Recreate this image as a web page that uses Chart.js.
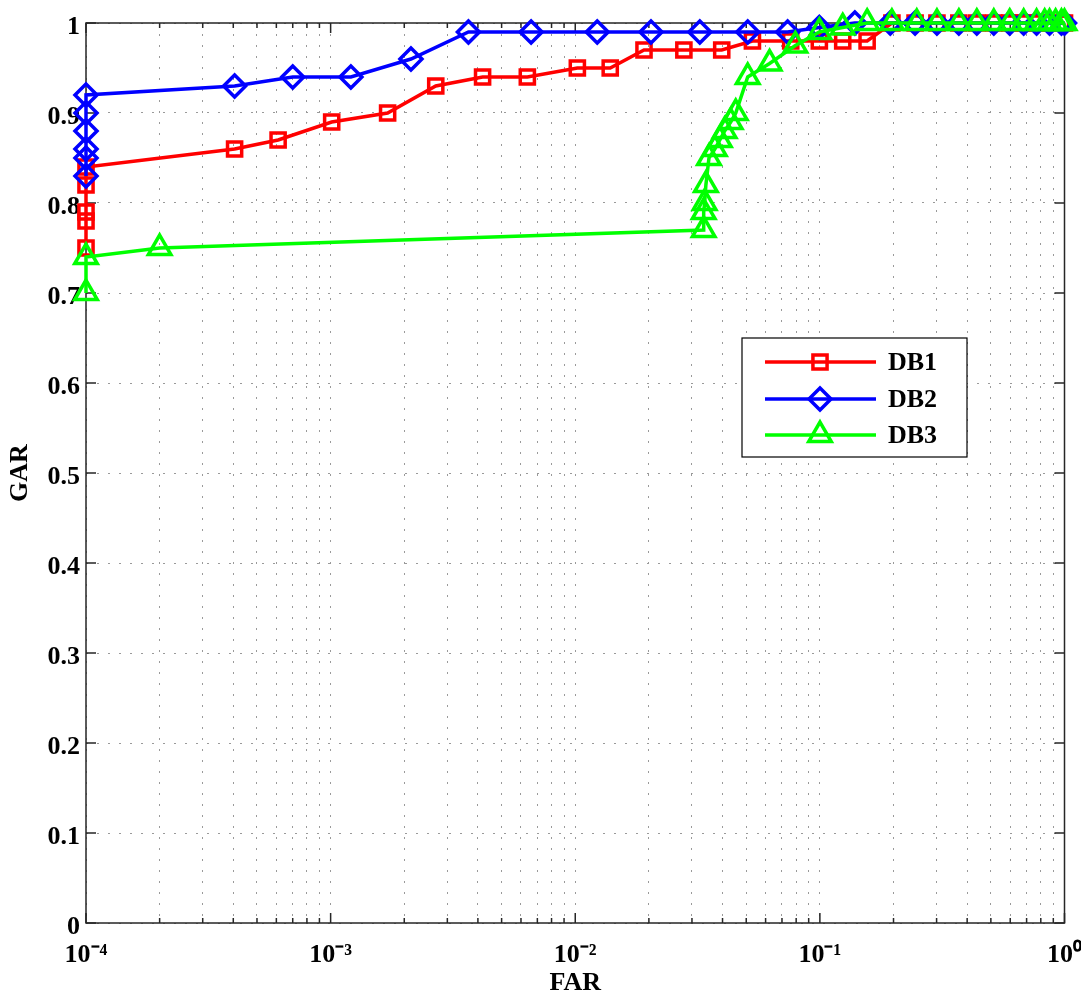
<!DOCTYPE html>
<html>
<head>
<meta charset="utf-8">
<script src="https://cdn.jsdelivr.net/npm/chart.js@4.4.1/dist/chart.umd.min.js"></script>
<style>
  html, body { margin: 0; padding: 0; background: #ffffff; }
  #c { display: block; }
</style>
</head>
<body>
<canvas id="c" width="1081" height="996"></canvas>
<script>
// ---------------- data ----------------
const seriesLabels = ['DB1', 'DB2', 'DB3'];

const db1X = [1e-4, 1e-4, 1e-4, 1e-4, 1e-4, 4.05e-4, 6.1e-4, 1.01e-3, 1.71e-3, 2.69e-3, 4.18e-3, 6.37e-3,
              1.02e-2, 1.39e-2, 1.91e-2, 2.78e-2, 3.97e-2, 5.3e-2, 7.6e-2, 0.0995, 0.124, 0.156,
              0.197, 0.245, 0.301, 0.37, 0.438, 0.514, 0.597, 0.681, 0.769, 0.869, 0.972, 1.0];
const db1Y = [0.75, 0.78, 0.79, 0.82, 0.84, 0.86, 0.87, 0.89, 0.90, 0.93, 0.94, 0.94,
              0.95, 0.95, 0.97, 0.97, 0.97, 0.98, 0.98, 0.98, 0.98, 0.98,
              1.0, 1.0, 1.0, 1.0, 1.0, 1.0, 1.0, 1.0, 1.0, 1.0, 1.0, 1.0];

const db2X = [1e-4, 1e-4, 1e-4, 1e-4, 1e-4, 1e-4, 4.05e-4, 7.0e-4, 1.21e-3, 2.13e-3, 3.66e-3, 6.6e-3,
              1.23e-2, 2.04e-2, 3.23e-2, 5.07e-2, 7.38e-2, 0.0995, 0.139, 0.194, 0.245, 0.301,
              0.37, 0.438, 0.514, 0.597, 0.681, 0.769, 0.869, 0.972, 1.0];
const db2Y = [0.83, 0.85, 0.86, 0.88, 0.90, 0.92, 0.93, 0.94, 0.94, 0.96, 0.99, 0.99,
              0.99, 0.99, 0.99, 0.99, 0.99, 0.995, 1.0, 1.0, 1.0, 1.0,
              1.0, 1.0, 1.0, 1.0, 1.0, 1.0, 1.0, 1.0, 1.0];

const db3X = [1e-4, 1e-4, 2.0e-4, 0.0335, 0.0335, 0.0338, 0.0342, 0.0352, 0.0372, 0.039, 0.0408,
              0.0432, 0.0453, 0.0507, 0.0623, 0.0794, 0.0995, 0.124, 0.156, 0.197, 0.249,
              0.301, 0.37, 0.438, 0.514, 0.597, 0.681, 0.769, 0.83, 0.869, 0.92, 0.972, 1.0];
const db3Y = [0.70, 0.74, 0.75, 0.77, 0.79, 0.80, 0.82, 0.85, 0.86, 0.87, 0.88,
              0.89, 0.90, 0.94, 0.955, 0.975, 0.99, 0.995, 1.0, 1.0, 1.0,
              1.0, 1.0, 1.0, 1.0, 1.0, 1.0, 1.0, 1.0, 1.0, 1.0, 1.0, 1.0];

const xDecadeValues = [1e-4, 1e-3, 1e-2, 1e-1, 1];
const xTickLabels = ['10\u207B\u2074', '10\u207B\u00B3', '10\u207B\u00B2', '10\u207B\u00B9', '10\u2070'];
const yTickValues = [0, 0.1, 0.2, 0.3, 0.4, 0.5, 0.6, 0.7, 0.8, 0.9, 1];
const yTickLabels = ['0', '0.1', '0.2', '0.3', '0.4', '0.5', '0.6', '0.7', '0.8', '0.9', '1'];
const xTitle = 'FAR';
const yTitle = 'GAR';

// ---------------- styles ----------------
const FONT = "'Liberation Serif', 'Times New Roman', serif";
const colors = ['#ff0000', '#0000ff', '#00ff00'];
const markers = ['rect', 'rectRot', 'triangle'];
const markerRadius = [10, 11, 13];

function pts(xs, ys) { return xs.map((v, i) => ({ x: v, y: ys[i] })); }

// all log ticks (1..9 x 10^k)
const xAllTicks = [];
for (let d = 0; d < xDecadeValues.length - 1; d++) {
  for (let m = 1; m <= 9; m++) xAllTicks.push(xDecadeValues[d] * m);
}
xAllTicks.push(xDecadeValues[xDecadeValues.length - 1]);

function isDecade(v) {
  const l = Math.log10(v);
  return Math.abs(l - Math.round(l)) < 1e-6;
}

function drawMarker(ctx, style, x, y, r) {
  ctx.beginPath();
  if (style === 'rect') {
    const s = Math.SQRT1_2 * r;
    ctx.rect(x - s, y - s, 2 * s, 2 * s);
  } else if (style === 'rectRot') {
    ctx.moveTo(x - r, y); ctx.lineTo(x, y - r); ctx.lineTo(x + r, y); ctx.lineTo(x, y + r); ctx.closePath();
  } else {
    let a = 0;
    ctx.moveTo(x + Math.sin(a) * r, y - Math.cos(a) * r);
    a += 2 * Math.PI / 3; ctx.lineTo(x + Math.sin(a) * r, y - Math.cos(a) * r);
    a += 2 * Math.PI / 3; ctx.lineTo(x + Math.sin(a) * r, y - Math.cos(a) * r);
    ctx.closePath();
  }
  ctx.stroke();
}

const framePlugin = {
  id: 'frame',
  beforeDatasetsDraw(chart) {
    const { ctx, chartArea: { left, right, top, bottom }, scales: { x, y } } = chart;
    ctx.save();
    ctx.strokeStyle = '#262626';
    ctx.lineWidth = 1.5;
    ctx.strokeRect(left, top, right - left, bottom - top);
    ctx.beginPath();
    x.ticks.forEach(t => {
      const px = x.getPixelForValue(t.value);
      const len = isDecade(t.value) ? 10 : 5;
      ctx.moveTo(px, bottom); ctx.lineTo(px, bottom - len);
      ctx.moveTo(px, top); ctx.lineTo(px, top + len);
    });
    y.ticks.forEach(t => {
      const py = y.getPixelForValue(t.value);
      ctx.moveTo(left, py); ctx.lineTo(left + 10, py);
      ctx.moveTo(right, py); ctx.lineTo(right - 10, py);
    });
    ctx.stroke();
    ctx.restore();
  }
};

const legendPlugin = {
  id: 'boxLegend',
  afterDraw(chart) {
    const ctx = chart.ctx;
    const bx = 742, by = 338, bw = 225, bh = 119;
    ctx.save();
    ctx.fillStyle = '#ffffff';
    ctx.fillRect(bx, by, bw, bh);
    ctx.strokeStyle = '#000000';
    ctx.lineWidth = 1.2;
    ctx.strokeRect(bx, by, bw, bh);
    const rows = [362, 399, 435];
    chart.data.datasets.forEach((ds, i) => {
      const yy = rows[i];
      ctx.strokeStyle = ds.borderColor;
      ctx.lineWidth = 3.5;
      ctx.beginPath(); ctx.moveTo(765, yy); ctx.lineTo(876, yy); ctx.stroke();
      ctx.lineWidth = ds.pointBorderWidth;
      drawMarker(ctx, ds.pointStyle, 820, yy, ds.pointRadius);
      ctx.fillStyle = '#000000';
      ctx.font = 'bold 26px ' + FONT;
      ctx.textAlign = 'left';
      ctx.textBaseline = 'middle';
      ctx.fillText(ds.label, 888, yy + 1);
    });
    ctx.restore();
  }
};

const seriesX = [db1X, db2X, db3X];
const seriesY = [db1Y, db2Y, db3Y];

const datasets = seriesLabels.map((lab, i) => ({
  label: lab,
  data: pts(seriesX[i], seriesY[i]),
  borderColor: colors[i],
  backgroundColor: 'transparent',
  pointBackgroundColor: 'transparent',
  pointBorderColor: colors[i],
  borderWidth: 3.5,
  pointBorderWidth: 3.5,
  pointStyle: markers[i],
  pointRadius: markerRadius[i],
  pointHoverRadius: markerRadius[i],
  tension: 0,
  clip: false,
  order: 3 - i
}));

const tickFont = { family: FONT, size: 26, weight: 'bold' };
const titleFont = { family: FONT, size: 26, weight: 'bold', lineHeight: 1.0 };

new Chart(document.getElementById('c'), {
  type: 'line',
  data: { datasets },
  options: {
    responsive: false,
    animation: false,
    events: [],
    layout: { padding: { top: 23, right: 13, left: 0, bottom: 0 } },
    plugins: { legend: { display: false }, tooltip: { enabled: false } },
    scales: {
      x: {
        type: 'logarithmic',
        position: 'bottom',
        min: 1e-4,
        max: 1,
        afterBuildTicks: s => { s.ticks = xAllTicks.map(v => ({ value: v })); },
        afterFit: s => { s.height = 73; s.paddingLeft = 0; s.paddingRight = 0; },
        grid: { color: '#9a9a9a', lineWidth: 1, drawTicks: false },
        border: { display: false, dash: [2, 9] },
        ticks: {
          autoSkip: false,
          maxRotation: 0,
          minRotation: 0,
          padding: 17,
          color: '#000000',
          font: tickFont,
          callback: (v) => {
            const idx = xDecadeValues.findIndex(d => Math.abs(Math.log10(d) - Math.log10(v)) < 1e-6);
            return idx >= 0 ? xTickLabels[idx] : '';
          }
        },
        title: {
          display: true,
          text: xTitle,
          color: '#000000',
          font: titleFont,
          padding: { top: 0, bottom: 0 }
        }
      },
      y: {
        type: 'linear',
        min: 0,
        max: 1,
        afterBuildTicks: s => { s.ticks = yTickValues.map(v => ({ value: v })); },
        afterFit: s => { s.width = 86; s.paddingTop = 0; s.paddingBottom = 0; },
        grid: { color: '#9a9a9a', lineWidth: 1, drawTicks: false },
        border: { display: false, dash: [2, 9] },
        ticks: {
          padding: 6,
          labelOffset: 4,
          color: '#000000',
          font: tickFont,
          callback: (v, i) => yTickLabels[i]
        },
        title: {
          display: true,
          text: yTitle,
          color: '#000000',
          font: titleFont,
          padding: { top: 7, bottom: 0 }
        }
      }
    }
  },
  plugins: [framePlugin, legendPlugin]
});
</script>
</body>
</html>
